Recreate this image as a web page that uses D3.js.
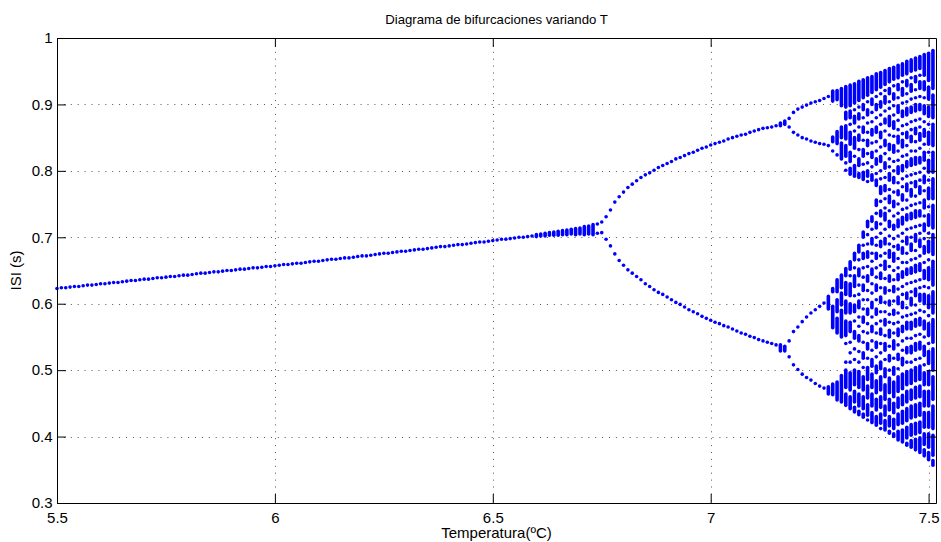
<!DOCTYPE html>
<html>
<head>
<meta charset="utf-8">
<script src="https://cdn.jsdelivr.net/npm/d3@7"></script>
<style>
  html, body { margin: 0; padding: 0; background: #fff; }
  svg text { font-family: "Liberation Sans", Arial, Helvetica, sans-serif; fill: #000; }
</style>
</head>
<body>
<svg id="chart" width="941" height="542"></svg>
<script>
// ---- Axis settings ----
const xDomain = [5.5, 7.517];
const yDomain = [0.3, 1.0];
const xTicks = [5.5, 6, 6.5, 7, 7.5];
const xTickLabels = ["5.5", "6", "6.5", "7", "7.5"];
const yTicks = [0.3, 0.4, 0.5, 0.6, 0.7, 0.8, 0.9, 1.0];
const yTickLabels = ["0.3", "0.4", "0.5", "0.6", "0.7", "0.8", "0.9", "1"];

// ---- Period-1 regime: one ISI per temperature ----
const tempPeriod1 = [
  5.50,5.51,5.52,5.53,5.54,5.55,5.56,5.57,5.58,5.59,
  5.60,5.61,5.62,5.63,5.64,5.65,5.66,5.67,5.68,5.69,
  5.70,5.71,5.72,5.73,5.74,5.75,5.76,5.77,5.78,5.79,
  5.80,5.81,5.82,5.83,5.84,5.85,5.86,5.87,5.88,5.89,
  5.90,5.91,5.92,5.93,5.94,5.95,5.96,5.97,5.98,5.99,
  6.00,6.01,6.02,6.03,6.04,6.05,6.06,6.07,6.08,6.09,
  6.10,6.11,6.12,6.13,6.14,6.15,6.16,6.17,6.18,6.19,
  6.20,6.21,6.22,6.23,6.24,6.25,6.26,6.27,6.28,6.29,
  6.30,6.31,6.32,6.33,6.34,6.35,6.36,6.37,6.38,6.39,
  6.40,6.41,6.42,6.43,6.44,6.45,6.46,6.47,6.48,6.49,
  6.50,6.51,6.52,6.53,6.54,6.55,6.56,6.57,6.58,6.59
];
const isiPeriod1 = [
  0.623,0.624,0.624,0.625,0.626,0.626,0.627,0.628,0.628,0.629,
  0.630,0.630,0.631,0.632,0.632,0.633,0.634,0.635,0.635,0.636,
  0.637,0.637,0.638,0.639,0.639,0.640,0.641,0.641,0.642,0.643,
  0.643,0.644,0.645,0.646,0.646,0.647,0.648,0.648,0.649,0.650,
  0.650,0.651,0.652,0.652,0.653,0.654,0.654,0.655,0.656,0.656,
  0.657,0.658,0.659,0.659,0.660,0.661,0.661,0.662,0.663,0.664,
  0.664,0.665,0.666,0.667,0.667,0.668,0.669,0.669,0.670,0.671,
  0.672,0.672,0.673,0.674,0.675,0.676,0.676,0.677,0.678,0.679,
  0.679,0.680,0.681,0.682,0.682,0.683,0.684,0.685,0.686,0.686,
  0.687,0.688,0.689,0.689,0.690,0.691,0.692,0.693,0.693,0.694,
  0.695,0.696,0.697,0.697,0.698,0.699,0.700,0.700,0.701,0.702
];

// ---- Onset of the first doubling: ISI spread per temperature (ms, "hi-lo") ----
const tempOnset = [6.60,6.61,6.62,6.63,6.64,6.65,6.66,6.67,6.68,6.69,6.70,6.71,6.72,6.73];
const isiOnset = [
  "701-704","702-705","702-706","703-707","703-708","703-709","704-710",
  "704-711","705-712","704-713","705-714","704-716","705-717","704-719"
];

// ---- Period-2 regime: upper and lower branch ----
const tempPeriod2 = [
  6.74,6.75,6.76,6.77,6.78,6.79,6.80,6.81,6.82,6.83,6.84,6.85,6.86,6.87,
  6.88,6.89,6.90,6.91,6.92,6.93,6.94,6.95,6.96,6.97,6.98,6.99,7.00,7.01,
  7.02,7.03,7.04,7.05,7.06,7.07,7.08,7.09,7.10,7.11,7.12,7.13,7.14,7.15
];
const isiUpper = [
  0.720,0.723,0.731,0.741,0.753,0.761,0.768,0.775,0.780,0.785,0.790,0.794,0.797,0.801,
  0.805,0.808,0.811,0.814,0.818,0.820,0.823,0.826,0.828,0.831,0.834,0.836,0.839,0.841,
  0.843,0.845,0.848,0.850,0.852,0.854,0.855,0.858,0.860,0.862,0.864,0.865,0.866,0.868
];
const isiLower = [
  0.706,0.707,0.697,0.687,0.675,0.665,0.658,0.651,0.646,0.641,0.636,0.630,0.626,0.621,
  0.617,0.614,0.610,0.606,0.602,0.599,0.595,0.591,0.588,0.585,0.581,0.578,0.575,0.572,
  0.570,0.567,0.565,0.562,0.559,0.556,0.554,0.551,0.549,0.546,0.544,0.542,0.540,0.538
];

// ---- Period-4 regime (ms; "hi-lo" marks a stacked run of spikes) ----
const tempPeriod4 = [7.16,7.17,7.18,7.19,7.20,7.21,7.22,7.23,7.24,7.25,7.26,7.27];
const isiPeriod4 = [
  "868-872 529-538",
  "870-875 529-536",
  "879 866 544 520",
  "888 858 558 508",
  "893 854 565 501",
  "896 850 573 494",
  "899 848 580 489",
  "902 845 586 485",
  "904 843 591 480",
  "906 841 596 476",
  "909 840 601 473",
  "912 838 592-611 464-475"
];

// ---- Chaotic regime (ms; "hi-lo" marks a stacked run of spikes) ----
const tempChaos = [
  7.28,7.29,7.30,7.31,7.32,7.33,7.34,7.35,7.36,7.37,7.38,7.39,
  7.40,7.41,7.42,7.43,7.44,7.45,7.46,7.47,7.48,7.49,7.50,7.51
];
const isiChaos = [
  "920-905 851-844 830 623-618 596-564 479-463",
  "921-907 859-841 824 636-618 606-588 578-556 482-455",
  "924-898 866-850 842-818 643-624 616-598 590-550 492-452",
  "927-896 888-878 868-848 838-822 812 801 653-642 632-614 604-586 574-552 540 512 500-474 464-447",
  "929-898 890-880 870 858-840 828-814 804-795 663-652 642 630-612 600-586 572-558 542 526 512 496-470 460-442",
  "931-902 892 882-872 860 850-834 822 808-792 676-666 654 642-626 612 598-588 574 558-548 532 516 500-478 468-452 444-437",
  "935-906 896 886-878 866 854-846 832 818-808 796-790 688-678 666 652-642 628 614 604-594 580 566 552-544 528 512 498-474 464-446 438-433",
  "937-910 900-892 880 866-858 846 832-822 810 798-787 708-700 688 676-668 654 640 628-620 606 592 580-572 558 542 526-518 504 490-470 460-442 434-429",
  "940-914 904 892-884 872 858 846-838 826 812 800-792 784 724-716 704 690 678-670 656 642-634 620 606 592-584 570 556 540-532 518 504-486 476-458 448-432 425",
  "942-918 908-900 888 874 862-854 842 828-820 806 794-786 731-724 712 698-690 676 664 652-644 630 616 602-594 580 566-558 544 530 516-506 494-474 464-446 436-421",
  "946-922 912 900-892 880 866-858 844 830 818-810 796 786-778 756-748 736 722-714 700 688 676-668 654 640 628-620 606 592-584 570 556 542-534 520 506-496 484-466 456-440 430-417",
  "948-926 916 904-896 884 870 858-850 836 822-814 800 788 776-766 754 740-732 720 706 694-686 672 658 646-638 624 610-602 588 574 562-554 540 526 512-502 490-470 460-444 434-420 412",
  "951-930 921 912-902 890 878-872 860 846-838 826 812-804 790 778-770 758 744 736-726 712 698-690 676 664-652 638 624-616 602 588 576-568 552 540-530 516 502-490 478-456 446-432 424-410",
  "954-934 924-916 904 894 882-868 854 840-832 818 806 796-786 772 762-752 740 724-716 702 690 680-670 656 642-634 620 604-598 584 572 560-550 536 522-514 500 488-466 456-440 430-416 408-405",
  "956-938 928 916-908 898 884 874-864 852 838-828 814 800 790-782 768 754-746 732 718-712 698 686 676-664 650 636 626-618 604 590-584 570 556 544-532 518 504-494 482-460 450-436 426-412 404-400",
  "959-940 930-922 910 898-888 876 862 852-842 830 816 806-796 782 770-764 750 736 726-716 702 688-682 668 654 644-636 622 610-600 586 572 562-552 538 524-516 502 490-468 458-444 434-418 408-395",
  "961-944 934 924-914 902 890-882 868 856 846-836 822 808-800 788 776 764-756 742 730-720 706 694 684-676 662 648-640 626 614 602-594 580 566-558 544 530 518-508 494-472 462-448 438-420 410-392",
  "965-946 936-928 916 904 894-884 870 858-850 838 824 814-806 792 780-770 756 744 734-726 712 700-690 676 662 652-644 630 616-608 594 582 572-562 548 534-526 512 498-478 468-452 442-424 414-398 390-387",
  "967-950 940 930-920 908 896-888 874 862 852-844 830 818-808 794 782 772-762 748 736-728 714 700 690-680 666 654-646 632 618 608-598 584 572-562 548 536-526 512 500-480 470-456 446-428 418-402 394-384",
  "970-952 942-934 922 910 900-890 876 864-856 844 830 820-810 796 784-776 762 750 740-730 716 704-694 680 668 658-648 634 622-612 598 586 576-566 552 540-530 516 504-484 474-458 448-430 420-404 396-380",
  "972-954 944 934-924 912 900-892 878 866 856-846 834 820-812 798 786 776-766 752 740-732 718 706 696-686 672 660-650 636 624 614-604 590 578-568 554 542-532 518 506-486 476-460 450-432 422-406 398-376",
  "975-944 934-922 910 898-886 874 862-852 840 828-816 804 792-782 770 756-744 732 720-710 698 686-676 662 650-638 626 614-600 588 574-562 550 536-522 508 496-478 468-446 436-414 404-388 380-371",
  "977-936 926-908 896-882 870 858-840 828 816-798 786 774-758 746 734-718 706 694-678 666 654-636 624 612-594 582 570-552 540 528-510 498-478 468-446 436-414 404-384 376-365",
  "981-924 914-880 870-838 828-798 788-758 748-714 704-674 664-628 618-586 576-542 532-500 490-456 446-412 402-372 364-357"
];

// ---- Build a flat list of marks: each is a single spike or a stacked run ----
function parseColumn(t, spec) {
  return spec.trim().split(/\s+/).map(tok => {
    const parts = tok.split("-").map(s => +s / 1000);
    return { t, hi: d3.max(parts), lo: d3.min(parts) };
  });
}
const marks = [];
tempPeriod1.forEach((t, i) => marks.push({ t, hi: isiPeriod1[i], lo: isiPeriod1[i] }));
tempOnset.forEach((t, i) => marks.push(...parseColumn(t, isiOnset[i])));
tempPeriod2.forEach((t, i) => {
  marks.push({ t, hi: isiUpper[i], lo: isiUpper[i] });
  marks.push({ t, hi: isiLower[i], lo: isiLower[i] });
});
tempPeriod4.forEach((t, i) => marks.push(...parseColumn(t, isiPeriod4[i])));
tempChaos.forEach((t, i) => marks.push(...parseColumn(t, isiChaos[i])));

// ---- Layout ----
const svg = d3.select("#chart");
const plotLeft = 57, plotRight = 936, plotTop = 38, plotBottom = 503;
const x = d3.scaleLinear().domain(xDomain).range([plotLeft, plotRight]);
const y = d3.scaleLinear().domain(yDomain).range([plotBottom, plotTop]);
const blue = "#0000ff";
const dotR = 1.8;

// Dotted grid
const grid = svg.append("g").attr("stroke", "#555").attr("stroke-width", 1)
  .attr("stroke-dasharray", "1,5.9").attr("fill", "none");
grid.selectAll("line.v").data(xTicks.filter(v => v > xDomain[0]))
  .join("line").attr("class", "v")
  .attr("x1", d => Math.round(x(d)) + 0.5).attr("x2", d => Math.round(x(d)) + 0.5)
  .attr("y1", plotTop).attr("y2", plotBottom);
grid.selectAll("line.h").data(yTicks.filter(v => v > yDomain[0] && v < yDomain[1]))
  .join("line").attr("class", "h")
  .attr("y1", d => Math.round(y(d)) + 0.5).attr("y2", d => Math.round(y(d)) + 0.5)
  .attr("x1", plotLeft).attr("x2", plotRight);

// Data marks
const dataG = svg.append("g");
dataG.selectAll("circle").data(marks.filter(m => m.hi === m.lo)).join("circle")
  .attr("cx", d => x(d.t)).attr("cy", d => y(d.hi)).attr("r", dotR).attr("fill", blue);
dataG.selectAll("line").data(marks.filter(m => m.hi !== m.lo)).join("line")
  .attr("x1", d => x(d.t)).attr("x2", d => x(d.t))
  .attr("y1", d => y(d.hi)).attr("y2", d => y(d.lo))
  .attr("stroke", blue).attr("stroke-width", dotR * 2).attr("stroke-linecap", "round");

// Axes (inward ticks on all four sides)
const tick = 9;
const fmtX = d => xTickLabels[xTicks.indexOf(d)];
const fmtY = d => yTickLabels[yTicks.indexOf(d)];
function styleAxis(g) {
  g.selectAll("path.domain").attr("stroke", "#000");
  g.selectAll(".tick line").attr("stroke", "#000");
  g.selectAll(".tick text").attr("font-size", 15).attr("fill", "#000")
    .attr("font-family", '"Liberation Sans", Arial, sans-serif');
}
svg.append("g").attr("transform", `translate(0,${plotBottom})`)
  .call(d3.axisBottom(x).tickValues(xTicks).tickFormat(fmtX).tickSizeInner(-tick).tickSizeOuter(0).tickPadding(9))
  .call(styleAxis);
svg.append("g").attr("transform", `translate(${plotLeft},0)`)
  .call(d3.axisLeft(y).tickValues(yTicks).tickFormat(fmtY).tickSizeInner(-tick).tickSizeOuter(0).tickPadding(4.5))
  .call(styleAxis);
svg.append("g").attr("transform", `translate(0,${plotTop})`)
  .call(d3.axisTop(x).tickValues(xTicks).tickFormat("").tickSizeInner(-tick).tickSizeOuter(0))
  .call(styleAxis);
svg.append("g").attr("transform", `translate(${plotRight},0)`)
  .call(d3.axisRight(y).tickValues(yTicks).tickFormat("").tickSizeInner(-tick).tickSizeOuter(0))
  .call(styleAxis);

// Titles
svg.append("text").attr("x", (plotLeft + plotRight) / 2).attr("y", 24)
  .attr("text-anchor", "middle").attr("font-size", 13.2)
  .text("Diagrama de bifurcaciones variando T");
svg.append("text").attr("x", (plotLeft + plotRight) / 2).attr("y", 538)
  .attr("text-anchor", "middle").attr("font-size", 15)
  .text("Temperatura(ºC)");
svg.append("text").attr("transform", `translate(21,${(plotTop + plotBottom) / 2}) rotate(-90)`)
  .attr("text-anchor", "middle").attr("font-size", 15)
  .text("ISI (s)");
</script>
</body>
</html>
